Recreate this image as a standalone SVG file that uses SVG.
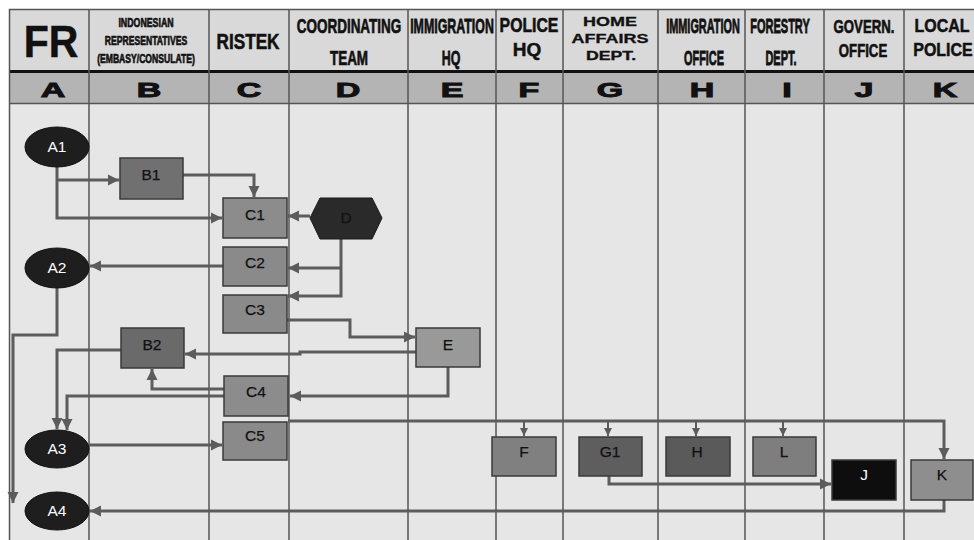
<svg xmlns="http://www.w3.org/2000/svg" width="974" height="540" viewBox="0 0 974 540">
<style>
.hd{font-family:"Liberation Sans",Arial,sans-serif;font-weight:bold;fill:#111;text-anchor:middle;stroke:#111;stroke-width:0.45}
.hv{stroke:#111;stroke-width:0.6}
.let{font-family:"Liberation Sans",Arial,sans-serif;font-weight:bold;fill:#111;text-anchor:middle;font-size:34px;stroke:#111;stroke-width:1.6}
.grid{stroke:#555;stroke-width:1.5;fill:none}
.box{stroke:#3a3a3a;stroke-width:1.5}
.lbl{font-family:"Liberation Sans",Arial,sans-serif;font-size:15.5px;fill:#111;text-anchor:middle;stroke:#111;stroke-width:0.25}
.wl{font-family:"Liberation Sans",Arial,sans-serif;font-size:15.5px;fill:#fff;text-anchor:middle}
.ell{fill:#1e1e1e;stroke:#111;stroke-width:1}
.c{stroke:#5c5c5c;stroke-width:3;fill:none}
.cs{stroke:#5c5c5c;stroke-width:2;fill:none}
</style>
<defs>
<marker id="ah" markerUnits="userSpaceOnUse" markerWidth="12" markerHeight="12" refX="11" refY="6" orient="auto">
<path d="M0,0.5 L11,6 L0,11.5 z" fill="#5c5c5c"/>
</marker>
<marker id="as" markerUnits="userSpaceOnUse" markerWidth="9" markerHeight="9" refX="8" refY="4.5" orient="auto">
<path d="M0,0.5 L8,4.5 L0,8.5 z" fill="#5c5c5c"/>
</marker>
</defs>
<rect x="0" y="0" width="974" height="540" fill="#fff"/>
<g id="grid">
<rect x="9" y="9" width="970" height="540" fill="#e6e6e6"/>
<rect x="9" y="9" width="970" height="62" fill="#d9d9d9"/>
<rect x="9" y="73" width="970" height="30" fill="#b4b4b4"/>
<line class="grid" x1="9" y1="9.5" x2="974" y2="9.5"/>
<line x1="9" y1="71.5" x2="974" y2="71.5" stroke="#111" stroke-width="3"/>
<line class="grid" x1="9" y1="103.5" x2="974" y2="103.5"/>
<path class="grid" d="M9.5,9 V540 M89,9 V540 M209,9 V540 M289,9 V540 M408,9 V540 M496,9 V540 M563,9 V540 M658,9 V540 M745,9 V540 M824,9 V540 M904,9 V540"/>
</g>
<g id="header">
<text class="hd" transform="translate(51,57) scale(1,1.09)" font-size="41" stroke-width="1.4">FR</text>
<text class="hd" transform="translate(146,27) scale(1,1.4)" font-size="8.8" stroke-width="0.3">INDONESIAN</text>
<text class="hd" transform="translate(146,45) scale(1,1.4)" font-size="8.6" stroke-width="0.3">REPRESENTATIVES</text>
<text class="hd" transform="translate(146,63) scale(1,1.4)" font-size="8.6" stroke-width="0.3">(EMBASY/CONSULATE)</text>
<text class="hd" transform="translate(248,49) scale(1,1.3)" font-size="17.2">RISTEK</text>
<text class="hd" transform="translate(349,33) scale(1,1.55)" font-size="13.5">COORDINATING</text>
<text class="hd" transform="translate(349,65) scale(1,1.55)" font-size="13.5">TEAM</text>
<text class="hd" transform="translate(452,33) scale(1,1.69)" font-size="12.4">IMMIGRATION</text>
<text class="hd" transform="translate(451,65) scale(1,1.69)" font-size="12.4">HQ</text>
<text class="hd" transform="translate(529,32) scale(1,1.24)" font-size="15.8">POLICE</text>
<text class="hd" transform="translate(527,56) scale(1,0.95)" font-size="19">HQ</text>
<text class="hd" transform="translate(610,26) scale(1,0.7)" font-size="18" stroke-width="0.8">HOME</text>
<text class="hd" transform="translate(610,43) scale(1,0.7)" font-size="18" stroke-width="0.8">AFFAIRS</text>
<text class="hd" transform="translate(611,60) scale(1,0.7)" font-size="17.7" stroke-width="0.8">DEPT.</text>
<text class="hd" transform="translate(703,33) scale(1,1.92)" font-size="10.9">IMMIGRATION</text>
<text class="hd" transform="translate(704,65) scale(1,1.92)" font-size="10.9">OFFICE</text>
<text class="hd" transform="translate(780,33) scale(1,1.9)" font-size="11">FORESTRY</text>
<text class="hd" transform="translate(781,65) scale(1,1.9)" font-size="11">DEPT.</text>
<text class="hd" transform="translate(864,33) scale(1,1.37)" font-size="13.2">GOVERN.</text>
<text class="hd" transform="translate(863,57) scale(1,1.37)" font-size="13.2">OFFICE</text>
<text class="hd" transform="translate(942,32) scale(1,1.2)" font-size="16">LOCAL</text>
<text class="hd" transform="translate(943,56) scale(1,1.2)" font-size="16">POLICE</text>
<text class="let" transform="translate(53,97) scale(1,0.575)">A</text>
<text class="let" transform="translate(149,97) scale(1,0.575)">B</text>
<text class="let" transform="translate(249,97) scale(1,0.575)">C</text>
<text class="let" transform="translate(348,97) scale(1,0.575)">D</text>
<text class="let" transform="translate(452,97) scale(1,0.575)">E</text>
<text class="let" transform="translate(529,97) scale(1,0.575)">F</text>
<text class="let" transform="translate(610,97) scale(1,0.575)">G</text>
<text class="let" transform="translate(702,97) scale(1,0.575)">H</text>
<text class="let" transform="translate(787,97) scale(1,0.575)">I</text>
<text class="let" transform="translate(864,97) scale(1,0.575)">J</text>
<text class="let" transform="translate(945,97) scale(1,0.575)">K</text>
</g>
<g id="connectors">
<path class="c" d="M57,166 V218 H222" marker-end="url(#ah)"/>
<path class="c" d="M57,180 H119" marker-end="url(#ah)"/>
<path class="c" d="M183,175 H254 V197" marker-end="url(#ah)"/>
<path class="c" d="M310,216 H288" marker-end="url(#ah)"/>
<path class="c" d="M341,239 V296 H288" marker-end="url(#ah)"/>
<path class="c" d="M341,268 H288" marker-end="url(#ah)"/>
<path class="c" d="M223,266 H90" marker-end="url(#ah)"/>
<path class="c" d="M57,288 V335 H13 V503" marker-end="url(#ah)"/>
<path class="c" d="M287,320 H350 V337 H415" marker-end="url(#ah)"/>
<path class="c" d="M416,352 H300 V354 H185" marker-end="url(#ah)"/>
<path class="c" d="M121,350 H57 V429" marker-end="url(#ah)"/>
<path class="c" d="M224,389 H152 V369" marker-end="url(#ah)"/>
<path class="c" d="M224,396 H67 V430" marker-end="url(#ah)"/>
<path class="c" d="M448,367 V396 H290" marker-end="url(#ah)"/>
<path class="c" d="M89,445 H222" marker-end="url(#ah)"/>
<path class="c" d="M288,421 H944 V459" marker-end="url(#ah)"/>
<path class="cs" d="M524,421 V436" marker-end="url(#as)"/>
<path class="cs" d="M608,421 V436" marker-end="url(#as)"/>
<path class="cs" d="M696,421 V436" marker-end="url(#as)"/>
<path class="cs" d="M783,421 V436" marker-end="url(#as)"/>
<path class="c" d="M609,476 V484 H831" marker-end="url(#ah)"/>
<path class="c" d="M944,500 V511 H90" marker-end="url(#ah)"/>
</g>
<g id="A1"><ellipse class="ell" cx="57" cy="147" rx="32" ry="20"/><text class="wl" x="57" y="152">A1</text></g>
<g id="A2"><ellipse class="ell" cx="57" cy="268" rx="32" ry="20"/><text class="wl" x="57" y="273">A2</text></g>
<g id="A3"><ellipse class="ell" cx="57" cy="449" rx="32" ry="19"/><text class="wl" x="57" y="454">A3</text></g>
<g id="A4"><ellipse class="ell" cx="57" cy="511" rx="32" ry="19"/><text class="wl" x="57" y="516">A4</text></g>
<g id="B1"><rect class="box" x="120" y="158" width="63" height="41" fill="#707070"/><text class="lbl" x="151" y="180">B1</text></g>
<g id="B2"><rect class="box" x="121" y="328" width="63" height="40" fill="#6a6a6a"/><text class="lbl" x="152" y="350">B2</text></g>
<g id="C1"><rect class="box" x="223" y="198" width="64" height="40" fill="#8c8c8c"/><text class="lbl" x="255" y="220">C1</text></g>
<g id="C2"><rect class="box" x="223" y="247" width="64" height="39" fill="#8a8a8a"/><text class="lbl" x="255" y="268">C2</text></g>
<g id="C3"><rect class="box" x="223" y="295" width="64" height="38" fill="#8a8a8a"/><text class="lbl" x="255" y="315">C3</text></g>
<g id="C4"><rect class="box" x="224" y="376" width="64" height="40" fill="#8c8c8c"/><text class="lbl" x="256" y="397">C4</text></g>
<g id="C5"><rect class="box" x="223" y="422" width="64" height="38" fill="#8a8a8a"/><text class="lbl" x="255" y="441">C5</text></g>
<g id="D"><polygon points="310,218 320,198 372,198 382,218 372,239 320,239" fill="#2a2a2a" stroke="#1a1a1a" stroke-width="1"/><text class="lbl" x="346" y="223">D</text></g>
<g id="E"><rect class="box" x="416" y="328" width="64" height="39" fill="#999999"/><text class="lbl" x="448" y="350">E</text></g>
<g id="F"><rect class="box" x="492" y="437" width="64" height="39" fill="#808080"/><text class="lbl" x="524" y="457">F</text></g>
<g id="G1"><rect class="box" x="579" y="437" width="63" height="39" fill="#5e5e5e"/><text class="lbl" x="610" y="457">G1</text></g>
<g id="H"><rect class="box" x="666" y="437" width="64" height="39" fill="#5a5a5a"/><text class="lbl" x="697" y="457">H</text></g>
<g id="L"><rect class="box" x="753" y="437" width="63" height="39" fill="#7e7e7e"/><text class="lbl" x="784" y="457">L</text></g>
<g id="J"><rect class="box" x="832" y="460" width="64" height="40" fill="#0e0e0e"/><text class="wl" x="864" y="480">J</text></g>
<g id="K"><rect class="box" x="911" y="460" width="62" height="40" fill="#8e8e8e"/><text class="lbl" x="942" y="480">K</text></g>
</svg>
